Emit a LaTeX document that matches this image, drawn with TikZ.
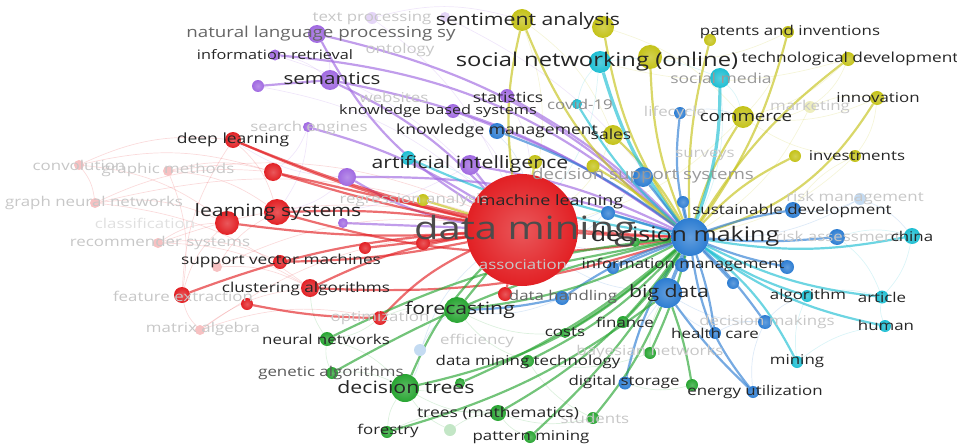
\documentclass[tikz,border=0pt]{standalone}
\usepackage{fontspec}
\setmainfont{Open Sans}[FakeStretch=1.25]
\usetikzlibrary{backgrounds}
\definecolor{vred}{RGB}{226,32,36}
\definecolor{vgrn}{RGB}{40,165,50}
\definecolor{vblu}{RGB}{45,125,210}
\definecolor{vyel}{RGB}{196,194,24}
\definecolor{vpur}{RGB}{160,105,225}
\definecolor{vcyn}{RGB}{30,190,210}
\tikzset{
  bub/.style={circle, inner sep=0pt, inner color=#1!75!white, outer color=#1},
  fbub/.style={circle, inner sep=0pt, fill=#1!28!white},
  lab/.style={inner sep=0pt, text=black!85, font=\fontsize{#1}{#1}\selectfont},
  flab/.style={inner sep=0pt, text=black!22, font=\fontsize{#1}{#1}\selectfont},
  lnk/.style={draw=#1, line width=2.2pt, draw opacity=0.65},
  flnk/.style={draw=#1, line width=0.7pt, draw opacity=0.16},
}
\begin{document}
\begin{tikzpicture}[x=1pt, y=-1pt, line cap=round]
\useasboundingbox (0,0) rectangle (957,444);

\node[bub=vpur, minimum size=18pt] (nlp) at (317,34) {};
\node[fbub=vpur, minimum size=12pt] (tpr) at (372,18) {};
\node[fbub=vpur, minimum size=10pt] (tpr2) at (445,17) {};
\node[bub=vpur, minimum size=11pt] (irt) at (275,55) {};
\node[bub=vpur, minimum size=20pt] (sem) at (330,80) {};
\node[bub=vpur, minimum size=12pt] (sem2) at (258,86) {};
\node[bub=vpur, minimum size=14pt] (sta) at (507,96) {};
\node[bub=vpur, minimum size=14pt] (kbs) at (453,111) {};
\node[bub=vpur, minimum size=10pt] (sen) at (308,127) {};
\node[bub=vpur, minimum size=20pt] (ai) at (470,165) {};
\node[bub=vpur, minimum size=18pt] (pu1) at (347,177) {};
\node[bub=vpur, minimum size=10pt] (pu2) at (343,223) {};

\node[bub=vcyn, minimum size=22pt] (snw) at (600,62) {};
\node[bub=vcyn, minimum size=20pt] (smd) at (720,78) {};
\node[bub=vcyn, minimum size=10pt] (cov) at (577,104) {};
\node[bub=vcyn, minimum size=14pt] (cy1) at (408,158) {};
\node[bub=vcyn, minimum size=12pt] (mlr) at (553,198) {};
\node[bub=vcyn, minimum size=16pt] (chn) at (912,236) {};
\node[bub=vcyn, minimum size=13pt] (art) at (882,297) {};
\node[bub=vcyn, minimum size=12pt] (alg) at (807,296) {};
\node[bub=vcyn, minimum size=12pt] (hum) at (885,326) {};
\node[bub=vcyn, minimum size=12pt] (min) at (797,362) {};

\node[bub=vyel, minimum size=22pt] (sa1) at (522,20) {};
\node[bub=vyel, minimum size=22pt] (sa2) at (603,27) {};
\node[bub=vyel, minimum size=12pt] (pat) at (788,32) {};
\node[bub=vyel, minimum size=12pt] (pa2) at (710,40) {};
\node[bub=vyel, minimum size=14pt] (tec) at (848,59) {};
\node[bub=vyel, minimum size=24pt] (sn2) at (650,57) {};
\node[bub=vyel, minimum size=14pt] (inn) at (877,98) {};
\node[fbub=vyel, minimum size=12pt] (mkt) at (810,107) {};
\node[bub=vyel, minimum size=22pt] (com) at (743,117) {};
\node[bub=vyel, minimum size=20pt] (sal) at (613,135) {};
\node[bub=vyel, minimum size=12pt] (inv) at (855,156) {};
\node[bub=vyel, minimum size=12pt] (iv2) at (795,156) {};
\node[bub=vyel, minimum size=14pt] (ye1) at (535,162) {};
\node[bub=vyel, minimum size=13pt] (ye2) at (593,166) {};
\node[bub=vyel, minimum size=12pt] (reg) at (423,200) {};

\node[bub=vblu, minimum size=16pt] (kmg) at (497,131) {};
\node[bub=vblu, minimum size=12pt] (lfc) at (680,113) {};
\node[bub=vblu, minimum size=20pt] (dss) at (643,177) {};
\node[bub=vblu, minimum size=12pt] (bl1) at (683,202) {};
\node[bub=vblu, minimum size=14pt] (bl2) at (608,213) {};
\node[bub=vblu, minimum size=16pt] (sus) at (793,210) {};
\node[fbub=vblu, minimum size=12pt] (rmg) at (860,199) {};
\node[bub=vblu, minimum size=16pt] (ras) at (837,237) {};
\node[bub=vblu, minimum size=14pt] (imt) at (682,265) {};
\node[bub=vblu, minimum size=12pt] (im2) at (613,268) {};
\node[bub=vblu, minimum size=14pt] (im3) at (787,267) {};
\node[bub=vblu, minimum size=12pt] (im4) at (733,283) {};
\node[bub=vblu, minimum size=30pt] (bgd) at (667,293) {};
\node[bub=vblu, minimum size=14pt] (dhd) at (562,298) {};
\node[bub=vblu, minimum size=12pt] (hlt) at (715,333) {};
\node[bub=vblu, minimum size=14pt] (dms) at (765,322) {};
\node[bub=vblu, minimum size=13pt] (dst) at (625,383) {};
\node[bub=vblu, minimum size=12pt] (enu) at (753,392) {};
\node[fbub=vblu, minimum size=12pt] (eff) at (420,350) {};
\node[bub=vblu, minimum size=38pt] (dmk) at (690,237) {};

\node[bub=vgrn, minimum size=16pt] (gr1) at (548,265) {};
\node[bub=vgrn, minimum size=10pt] (gr2) at (635,242) {};
\node[bub=vgrn, minimum size=26pt] (fct) at (457,310) {};
\node[bub=vgrn, minimum size=14pt] (nnw) at (327,339) {};
\node[bub=vgrn, minimum size=12pt] (gal) at (332,373) {};
\node[bub=vgrn, minimum size=28pt] (dtr) at (405,388) {};
\node[bub=vgrn, minimum size=10pt] (dt2) at (460,383) {};
\node[bub=vgrn, minimum size=10pt] (cst) at (565,333) {};
\node[bub=vgrn, minimum size=12pt] (fin) at (623,322) {};
\node[bub=vgrn, minimum size=12pt] (bay) at (650,353) {};
\node[bub=vgrn, minimum size=12pt] (dmt) at (528,361) {};
\node[bub=vgrn, minimum size=16pt] (trm) at (498,413) {};
\node[bub=vgrn, minimum size=12pt] (stu) at (593,418) {};
\node[bub=vgrn, minimum size=12pt] (fst) at (387,432) {};
\node[fbub=vgrn, minimum size=12pt] (fo2) at (450,430) {};
\node[bub=vgrn, minimum size=12pt] (pmn) at (530,437) {};
\node[bub=vgrn, minimum size=12pt] (egr) at (692,385) {};

\node[bub=vred, minimum size=16pt] (dpl) at (233,140) {};
\node[bub=vred, minimum size=18pt] (rd1) at (273,172) {};
\node[fbub=vred, minimum size=10pt] (cnv) at (79,165) {};
\node[fbub=vred, minimum size=10pt] (gph) at (168,171) {};
\node[fbub=vred, minimum size=10pt] (gnn) at (95,203) {};
\node[bub=vred, minimum size=24pt] (ls1) at (227,223) {};
\node[bub=vred, minimum size=26pt] (ls2) at (277,212) {};
\node[fbub=vred, minimum size=10pt] (rec) at (158,243) {};
\node[fbub=vred, minimum size=10pt] (rf1) at (217,267) {};
\node[bub=vred, minimum size=14pt] (svm) at (280,262) {};
\node[bub=vred, minimum size=12pt] (rd2) at (365,248) {};
\node[bub=vred, minimum size=14pt] (rd3) at (423,243) {};
\node[bub=vred, minimum size=18pt] (clu) at (310,288) {};
\node[bub=vred, minimum size=16pt] (fex) at (182,295) {};
\node[bub=vred, minimum size=12pt] (rd4) at (247,304) {};
\node[fbub=vred, minimum size=10pt] (mtx) at (200,330) {};
\node[bub=vred, minimum size=14pt] (opt) at (380,318) {};
\node[bub=vred, minimum size=14pt] (rd5) at (505,294) {};
\node[bub=vred, minimum size=112pt] (dm) at (522,230) {};

\begin{scope}[on background layer]
\foreach \a/\b/\c in {cnv/ls1/vred, cnv/dpl/vred, cnv/rd1/vred, gph/ls2/vred, gph/dm/vred, gph/rd1/vred,
  gnn/ls1/vred, gnn/dm/vred, gnn/clu/vred, rec/ls1/vred, rec/dm/vred, rec/svm/vred, rf1/dm/vred,
  rf1/clu/vred, mtx/fex/vred, mtx/dm/vred, mtx/clu/vred, fex/ls1/vred, fex/dpl/vred, dpl/ls2/vred,
  cnv/gnn/vred, gph/fex/vred, rec/clu/vred, mtx/opt/vred, rf1/ls2/vred, gnn/rd1/vred,
  sem2/dm/vpur, irt/dm/vpur, irt/sem/vpur, nlp/sem/vpur, tpr/dm/vpur, tpr/sa1/vpur, tpr2/dmk/vpur,
  sen/ls2/vpur, sen/rd1/vpur, pu1/ls2/vpur, pu1/dpl/vpur, ai/ls2/vpur, kbs/dm/vpur, sta/dm/vpur,
  sa1/sal/vyel, sa2/com/vyel, pat/com/vyel, tec/com/vyel, inn/com/vyel, mkt/dmk/vyel, mkt/com/vyel,
  mkt/inn/vyel, tec/snw/vyel, inv/com/vyel, sus/inv/vyel, inv/dmk/vyel, sal/dm/vyel, com/dm/vyel,
  sa1/dm/vyel, pat/sn2/vyel, tec/mkt/vyel, inn/inv/vyel,
  snw/smd/vcyn, smd/com/vcyn, smd/dmk/vcyn, cov/snw/vcyn, cy1/dm/vcyn, mlr/dm/vcyn, snw/dm/vcyn,
  ras/chn/vcyn, ras/art/vcyn, alg/art/vcyn, hum/art/vcyn, min/alg/vcyn, min/hum/vcyn, chn/art/vcyn,
  rmg/dmk/vblu, rmg/sus/vblu, rmg/chn/vblu, dms/bgd/vblu, dms/alg/vblu, hlt/bgd/vblu, enu/dms/vblu,
  lfc/com/vblu, kmg/dm/vblu, dhd/fct/vblu, im2/dm/vblu, bl2/dm/vblu, dss/dm/vblu, bgd/dm/vblu,
  dmk/dm/vblu, eff/dm/vblu, eff/fct/vblu, eff/dtr/vblu, hlt/dms/vblu, dst/bgd/vblu,
  bay/bgd/vgrn, bay/dmt/vgrn, stu/dmt/vgrn, stu/trm/vgrn, fo2/dtr/vgrn, fo2/trm/vgrn, fst/trm/vgrn,
  gal/dtr/vgrn, gal/nnw/vgrn, nnw/dtr/vgrn, nnw/clu/vgrn, opt/fct/vgrn, opt/nnw/vgrn, dt2/dtr/vgrn,
  trm/dtr/vgrn, pmn/trm/vgrn, cst/fct/vgrn, dmt/fct/vgrn, gr1/dm/vgrn, fst/dtr/vgrn, egr/dst/vgrn}
  \draw[flnk=\c] (\a) to[bend left=15] (\b);

\draw[lnk=vpur] (nlp) to[bend left=-15] (dm);
\draw[lnk=vpur] (nlp) to[bend left=15] (dmk);
\draw[lnk=vpur] (irt) to[bend left=18] (dmk);
\draw[lnk=vpur] (sem) -- (sem2);
\draw[lnk=vpur] (sem) to[bend left=12] (dmk);
\draw[lnk=vpur] (sem) to[bend left=10] (dm);
\draw[lnk=vpur] (sta) to[bend left=8] (dmk);
\draw[lnk=vpur] (kbs) to[bend left=8] (dmk);
\draw[lnk=vpur] (sen) to[bend left=8] (dm);
\draw[lnk=vpur] (ai) to[bend left=8] (dmk);
\draw[lnk=vpur] (ai) -- (dm);
\draw[lnk=vpur] (pu1) to[bend left=-10] (dm);
\draw[lnk=vpur] (pu1) to[bend left=10] (dmk);
\draw[lnk=vpur] (pu2) -- (dm);

\draw[lnk=vred] (dpl) to[bend left=-5] (dm);
\draw[lnk=vred] (dpl) to[bend left=-10] (dmk);
\draw[lnk=vred] (rd1) -- (dm);
\draw[lnk=vred] (rd1) to[bend left=-8] (dmk);
\draw[lnk=vred] (ls2) to[bend left=5] (dm);
\draw[lnk=vred] (ls1) to[bend left=-5] (dm);
\draw[lnk=vred] (ls2) to[bend left=-12] (dmk);
\draw[lnk=vred] (svm) to[bend left=-5] (dm);
\draw[lnk=vred] (rd2) -- (dm);
\draw[lnk=vred] (rd3) -- (dm);
\draw[lnk=vred] (clu) to[bend left=8] (dm);
\draw[lnk=vred] (clu) to[bend left=-10] (dmk);
\draw[lnk=vred] (fex) to[bend left=8] (dm);
\draw[lnk=vred] (rd4) to[bend left=-5] (opt);
\draw[lnk=vred] (opt) to[bend left=10] (dm);
\draw[lnk=vred] (rd5) -- (dm);

\draw[lnk=vyel] (sa1) to[bend left=-15] (dmk);
\draw[lnk=vyel] (sa1) to[bend left=-10] (dm);
\draw[lnk=vyel] (sa2) to[bend left=-12] (dmk);
\draw[lnk=vyel] (sn2) to[bend left=-10] (dmk);
\draw[lnk=vyel] (pa2) to[bend left=-8] (dmk);
\draw[lnk=vyel] (pat) to[bend left=10] (dmk);
\draw[lnk=vyel] (tec) to[bend left=-10] (dmk);
\draw[lnk=vyel] (inn) to[bend left=20] (dmk);
\draw[lnk=vyel] (com) to[bend left=-8] (dmk);
\draw[lnk=vyel] (sal) to[bend left=8] (dmk);
\draw[lnk=vyel] (iv2) to[bend left=-10] (dmk);
\draw[lnk=vyel] (ye1) -- (dm);
\draw[lnk=vyel] (ye2) to[bend left=5] (dmk);
\draw[lnk=vyel] (reg) -- (dm);

\draw[lnk=vcyn, line width=3.2pt] (snw) to[bend left=-10] (dmk);
\draw[lnk=vcyn, line width=3.2pt] (smd) to[bend left=10] (dmk);
\draw[lnk=vcyn] (cov) to[bend left=-8] (dmk);
\draw[lnk=vcyn] (cy1) to[bend left=-8] (dmk);
\draw[lnk=vcyn] (mlr) -- (dmk);
\draw[lnk=vcyn] (chn) to[bend left=10] (dmk);
\draw[lnk=vcyn] (art) to[bend left=10] (dmk);
\draw[lnk=vcyn] (hum) to[bend left=12] (dmk);
\draw[lnk=vcyn] (alg) to[bend left=8] (dmk);
\draw[lnk=vcyn] (min) to[bend left=-12] (dmk);

\draw[lnk=vblu] (kmg) to[bend left=8] (dmk);
\draw[lnk=vblu] (lfc) to[bend left=-10] (dmk);
\draw[lnk=vblu] (dss) -- (dmk);
\draw[lnk=vblu] (bl1) -- (dmk);
\draw[lnk=vblu] (bl2) -- (dmk);
\draw[lnk=vblu] (sus) to[bend left=-5] (dmk);
\draw[lnk=vblu] (ras) to[bend left=5] (dmk);
\draw[lnk=vblu] (im3) to[bend left=5] (dmk);
\draw[lnk=vblu] (im4) -- (dmk);
\draw[lnk=vblu] (imt) -- (dmk);
\draw[lnk=vblu] (im2) -- (dmk);
\draw[lnk=vblu, line width=3.5pt] (bgd) -- (dmk);
\draw[lnk=vblu] (dhd) to[bend left=8] (dmk);
\draw[lnk=vblu] (dhd) to[bend left=5] (fct);
\draw[lnk=vblu] (hlt) to[bend left=-5] (dmk);
\draw[lnk=vblu] (dms) to[bend left=-5] (dmk);
\draw[lnk=vblu] (dst) to[bend left=10] (dmk);
\draw[lnk=vblu] (enu) to[bend left=15] (dmk);
\draw[lnk=vblu] (enu) to[bend left=5] (bgd);

\draw[lnk=vgrn] (gr1) -- (dmk);
\draw[lnk=vgrn] (gr2) -- (dmk);
\draw[lnk=vgrn] (fct) to[bend left=-10] (dmk);
\draw[lnk=vgrn] (fct) -- (dm);
\draw[lnk=vgrn] (nnw) to[bend left=10] (dmk);
\draw[lnk=vgrn] (gal) to[bend left=8] (dmk);
\draw[lnk=vgrn] (dtr) to[bend left=-15] (dmk);
\draw[lnk=vgrn] (dtr) to[bend left=10] (dm);
\draw[lnk=vgrn] (dt2) to[bend left=-8] (dmk);
\draw[lnk=vgrn] (cst) to[bend left=-5] (dmk);
\draw[lnk=vgrn] (fin) to[bend left=-5] (dmk);
\draw[lnk=vgrn] (bay) to[bend left=-5] (dmk);
\draw[lnk=vgrn] (dmt) to[bend left=-10] (dmk);
\draw[lnk=vgrn] (trm) to[bend left=-12] (dmk);
\draw[lnk=vgrn] (stu) to[bend left=-8] (bgd);
\draw[lnk=vgrn] (fst) to[bend left=-10] (bgd);
\draw[lnk=vgrn] (pmn) to[bend left=-8] (dmk);
\draw[lnk=vgrn] (egr) to[bend left=-5] (bgd);
\end{scope}

\node[flab=13.5] (tpr-t) at (372,18) {text processing};
\node[flab=13.5] (ont-t) at (400,50) {ontology};
\node[flab=13.5] (web-t) at (394,97) {websites};
\node[flab=13.5] (sen-t) at (309,128) {search engines};
\node[flab=13.5, text=black!45] (cov-t) at (580,104) {covid-19};
\node[flab=14, text=black!40] (smd-t) at (721,78) {social media};
\node[flab=13.5] (lfc-t) at (675,113) {lifecycle};
\node[flab=13.5] (mkt-t) at (810,107) {marketing};
\node[flab=13.5] (srv-t) at (705,155) {surveys};
\node[flab=15, text=black!40] (dss-t) at (643,176) {decision support systems};
\node[flab=13.5] (rmg-t) at (855,198) {risk management};
\node[flab=13.5] (ras-t) at (838,236) {risk assessment};
\node[flab=13.5] (reg-t) at (414,200) {regression analysis};
\node[flab=13.5] (cnv-t) at (79,165) {convolution};
\node[flab=13.5] (gph-t) at (168,170) {graphic methods};
\node[flab=13.5] (gnn-t) at (94,203) {graph neural networks};
\node[flab=13.5, text=black!12] (cls-t) at (145,223) {classification};
\node[flab=13.5] (rec-t) at (160,243) {recommender systems};
\node[flab=13.5] (fex-t) at (183,296) {feature extraction};
\node[flab=13.5] (mtx-t) at (203,329) {matrix algebra};
\node[flab=13.5] (opt-t) at (380,318) {optimization};
\node[flab=13.5] (asc-t) at (523,265) {association};
\node[flab=13.5] (eff-t) at (477,341) {efficiency};
\node[flab=13.5] (bay-t) at (650,352) {bayesian networks};
\node[flab=13.5] (dms-t) at (767,322) {decision makings};
\node[flab=13.5] (stu-t) at (595,418) {students};

\node[lab=32, text=black!70] (dm-t) at (525,231) {data mining};
\node[lab=20] (dmk-t) at (685,236) {decision making};
\node[lab=17] (ls-t) at (278,212) {learning systems};
\node[lab=17] (sa-t) at (528,21) {sentiment analysis};
\node[lab=19] (snw-t) at (597,62) {social networking (online)};
\node[lab=17] (bgd-t) at (669,293) {big data};
\node[lab=17] (fct-t) at (460,310) {forecasting};
\node[lab=17] (dtr-t) at (406,387) {decision trees};
\node[lab=17] (ai-t) at (470,164) {artificial intelligence};
\node[lab=16.5] (sem-t) at (332,79) {semantics};
\node[lab=15, text=black!60] (nlp-t) at (321,34) {natural language processing sy};
\node[lab=14.3] (mlr-t) at (551,202) {machine learning};
\node[lab=13] (irt-t) at (275,55) {information retrieval};
\node[lab=14] (sta-t) at (508,97) {statistics};
\node[lab=13] (kbs-t) at (438,111) {knowledge based systems};
\node[lab=14] (kmg-t) at (497,131) {knowledge management};
\node[lab=14] (sal-t) at (611,134) {sales};
\node[lab=13.5] (pat-t) at (790,32) {patents and inventions};
\node[lab=13.8] (tec-t) at (850,59) {technological development};
\node[lab=13.5] (inn-t) at (878,98) {innovation};
\node[lab=15] (com-t) at (746,117) {commerce};
\node[lab=13.5] (inv-t) at (857,156) {investments};
\node[lab=13.6] (sus-t) at (792,211) {sustainable development};
\node[lab=13.5] (chn-t) at (912,236) {china};
\node[lab=13.5] (imt-t) at (683,265) {information management};
\node[lab=13.5] (alg-t) at (808,296) {algorithm};
\node[lab=13.5] (art-t) at (882,297) {article};
\node[lab=13.5] (hum-t) at (886,325) {human};
\node[lab=13.5] (hlt-t) at (715,333) {health care};
\node[lab=13.5] (min-t) at (797,361) {mining};
\node[lab=13.5] (dst-t) at (624,382) {digital storage};
\node[lab=13.5] (enu-t) at (755,392) {energy utilization};
\node[lab=13.5] (dmt-t) at (528,362) {data mining technology};
\node[lab=14] (trm-t) at (498,413) {trees (mathematics)};
\node[lab=13.5] (fst-t) at (388,431) {forestry};
\node[lab=13.5] (pmn-t) at (531,437) {pattern mining};
\node[lab=13.5] (nnw-t) at (326,339) {neural networks};
\node[lab=13.5, text=black!65] (gal-t) at (331,373) {genetic algorithms};
\node[lab=13.5] (cst-t) at (565,332) {costs};
\node[lab=13.5] (fin-t) at (625,322) {finance};
\node[lab=13.5, text=black!60] (dhd-t) at (563,297) {data handling};
\node[lab=14] (dpl-t) at (233,140) {deep learning};
\node[lab=13.8] (svm-t) at (281,261) {support vector machines};
\node[lab=13.7] (clu-t) at (306,289) {clustering algorithms};
\end{tikzpicture}
\end{document}
